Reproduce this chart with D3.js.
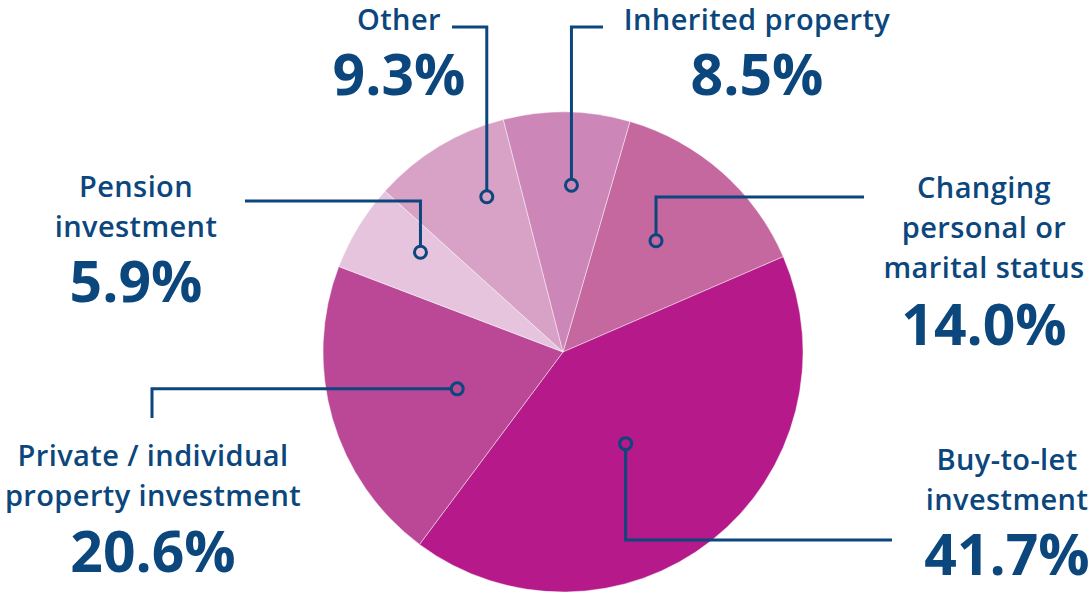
<!DOCTYPE html>
<html>
<head>
<meta charset="utf-8">
<script src="https://cdn.jsdelivr.net/npm/d3@7"></script>
<style>
  body { margin: 0; background: #fff; }
  svg { display: block; }
</style>
</head>
<body>
<div id="chart"></div>
<script>
// data
var categories = ["Changing personal or marital status", "Buy-to-let investment",
  "Private / individual property investment", "Pension investment", "Other", "Inherited property"];
var shares = [14.0, 41.7, 20.6, 5.9, 9.3, 8.5];
var sliceColors = ["#c4689f", "#b5198a", "#bb4897", "#e6c4dd", "#d8a2c6", "#cc86b7"];

// label text lines (wrapped as in the original)
var labelLines = [
  ["Changing", "personal or", "marital status"],
  ["Buy-to-let", "investment"],
  ["Private / individual", "property investment"],
  ["Pension", "investment"],
  ["Other"],
  ["Inherited property"]
];

// layout for each callout: anchor radius/angle nudge, elbow, text block
var callouts = [
  { r: 145, da: -1.5, type: "v", y: 197, xEnd: 864, tx: 984, ty: 198, numY: 345 },
  { r: 111, da: 4,    type: "v", y: 540, xEnd: 892, tx: 1007, ty: 470, numY: 575 },
  { r: 112, da: -3,   type: "h", x: 152, yEnd: 418, tx: 153, ty: 466, numY: 572 },
  { r: 174, da: 3.5,  type: "v", y: 201, xEnd: 245, tx: 136, ty: 197, numY: 302 },
  { r: 173, da: 5,    type: "v", y: 27,  xEnd: 452, tx: 399, ty: 30,  numY: 95 },
  { r: 167, da: 2,    type: "v", y: 27,  xEnd: 603, tx: 757, ty: 30,  numY: 95 }
];

var width = 1091, height = 594;
var cx = 563, cy = 352, radius = 240;
var navy = "#0b467d";

var svg = d3.select("#chart").append("svg")
  .attr("width", width)
  .attr("height", height);

var data = categories.map(function (c, i) {
  return { name: c, value: shares[i], color: sliceColors[i], lines: labelLines[i], pos: callouts[i] };
});

var pie = d3.pie()
  .sort(null)
  .value(function (d) { return d.value; })
  .startAngle(16.2 * Math.PI / 180)
  .endAngle(16.2 * Math.PI / 180 + 2 * Math.PI);

var arc = d3.arc().innerRadius(0).outerRadius(radius);

var g = svg.append("g").attr("transform", "translate(" + cx + "," + cy + ")");

var arcs = pie(data);

g.selectAll("path.slice")
  .data(arcs)
  .enter()
  .append("path")
  .attr("class", "slice")
  .attr("d", arc)
  .attr("fill", function (d) { return d.data.color; })
  .attr("stroke", "rgba(255,255,255,0.45)")
  .attr("stroke-width", 1);

// callout lines and anchor circles
arcs.forEach(function (d) {
  var p = d.data.pos;
  var mid = (d.startAngle + d.endAngle) / 2 + p.da * Math.PI / 180;
  var ax = cx + p.r * Math.sin(mid);
  var ay = cy - p.r * Math.cos(mid);
  var path;
  if (p.type === "v") {
    path = "M" + ax + "," + ay + "V" + p.y + "H" + p.xEnd;
  } else {
    path = "M" + ax + "," + ay + "H" + p.x + "V" + p.yEnd;
  }
  svg.append("path")
    .attr("d", path)
    .attr("fill", "none")
    .attr("stroke", navy)
    .attr("stroke-width", 3);
  svg.append("circle")
    .attr("cx", ax)
    .attr("cy", ay)
    .attr("r", 6)
    .attr("fill", d.data.color)
    .attr("stroke", navy)
    .attr("stroke-width", 3);

  // label text
  var t = svg.append("text")
    .attr("text-anchor", "middle")
    .style("font-family", "'Open Sans', sans-serif")
    .style("font-size", "29px")
    .style("font-weight", 600)
    .style("letter-spacing", "0.4px")
    .attr("fill", navy);
  d.data.lines.forEach(function (line, i) {
    t.append("tspan")
      .attr("x", p.tx)
      .attr("y", p.ty + i * 40)
      .text(line);
  });

  svg.append("text")
    .attr("x", p.tx)
    .attr("y", p.numY)
    .attr("text-anchor", "middle")
    .style("font-family", "'Open Sans', sans-serif")
    .style("font-size", "57px")
    .style("font-weight", 700)
    .attr("fill", navy)
    .text(d.data.value.toFixed(1) + "%");
});
</script>
</body>
</html>
